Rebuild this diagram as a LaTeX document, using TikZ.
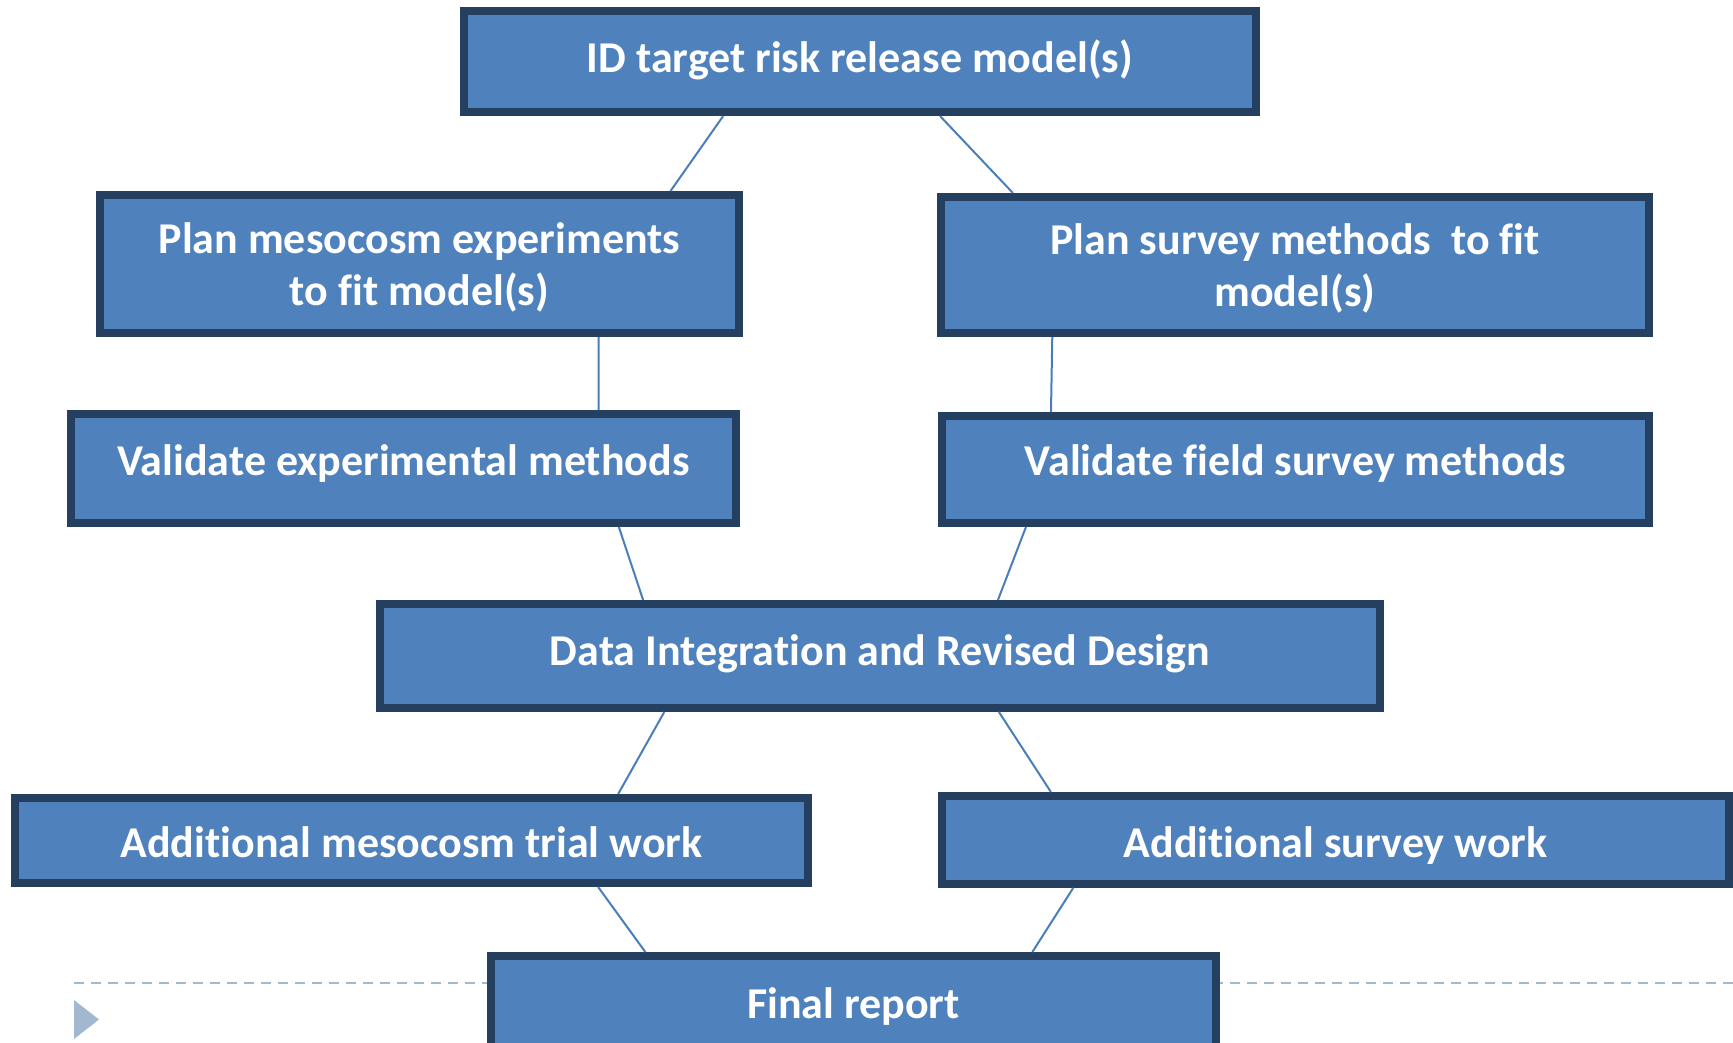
\documentclass[tikz,border=0pt]{standalone}
\usepackage{fontspec}
\setmainfont{Carlito}[Ligatures=NoCommon]
\usepackage{tikz}
\usetikzlibrary{calc}
\definecolor{boxblue}{HTML}{4F81BD}
\definecolor{boxedge}{HTML}{243F60}
\definecolor{linkblue}{HTML}{4A7EBB}
\definecolor{footgray}{HTML}{A2B8CF}

\begin{document}
\begin{tikzpicture}
 [x=0.5pt, y=-0.5pt, task/.style={rectangle,inner sep=0pt,draw=boxedge,fill=boxblue,line width=4pt,text=white,align=center,font=\fontsize{22}{25.5}\selectfont\bfseries}, texth/.style={text height=#1,text depth=4pt}, link/.style={draw=linkblue,line width=1pt}]
 \useasboundingbox (0,0) rectangle (1733,1043);
 % footer
 \draw[footgray, line width=1pt, dash pattern=on 5pt off 3.5pt] (74,983) -- (1733,983);
 \fill[footgray] (74,1000) -- (99,1019.5) -- (74,1039) -- cycle;
 % boxes
 \node (id) [task, texth=15.2pt, minimum width=396pt, minimum height=50.5pt] at (860,61.5) {ID target risk release model(s)};
 \node (meso) [task, texth=45pt, minimum width=319.5pt, minimum height=69pt] at (419.5,264) {Plan mesocosm experiments\\to fit model(s)};
 \node (survey) [task, texth=45pt, minimum width=354pt, minimum height=68pt] at (1295,265) {Plan survey methods\ \ to fit\\model(s)};
 \node (valexp) [task, texth=10.6pt, minimum width=332.5pt, minimum height=54.5pt] at (403.5,468.5) {Validate experimental methods};
 \node (valfield) [task, texth=10.1pt, minimum width=353.5pt, minimum height=53.5pt] at (1295.5,469.5) {Validate field survey methods};
 \node (data) [task, texth=13pt, minimum width=500pt, minimum height=52pt] at (880,656) {Data Integration and Revised Design};
 \node (addmeso) [task, texth=20.8pt, minimum width=396.5pt, minimum height=42.5pt] at (411.5,840.5) {Additional mesocosm trial work};
 \node (addsurvey) [task, texth=21.2pt, minimum width=393.5pt, minimum height=44pt] at (1335.5,840) {Additional survey work};
 \node (final) [task, texth=19.6pt, minimum width=362.5pt, minimum height=47pt] at (853.5,1003) {Final report};
 % links
 \foreach \from/\fa/\to/\fb in {id/0.329/meso/0.888, id/0.600/survey/0.106, meso/0.777/valexp/0.790, survey/0.161/valfield/0.158, valexp/0.820/data/0.265, valfield/0.123/data/0.617, data/0.286/addmeso/0.758, data/0.618/addsurvey/0.142, addmeso/0.733/final/0.216, addsurvey/0.170/final/0.744}
 \draw[link] ($(\from.south west)!\fa!(\from.south east)$) -- ($(\to.north west)!\fb!(\to.north east)$);
\end{tikzpicture}
\end{document}
